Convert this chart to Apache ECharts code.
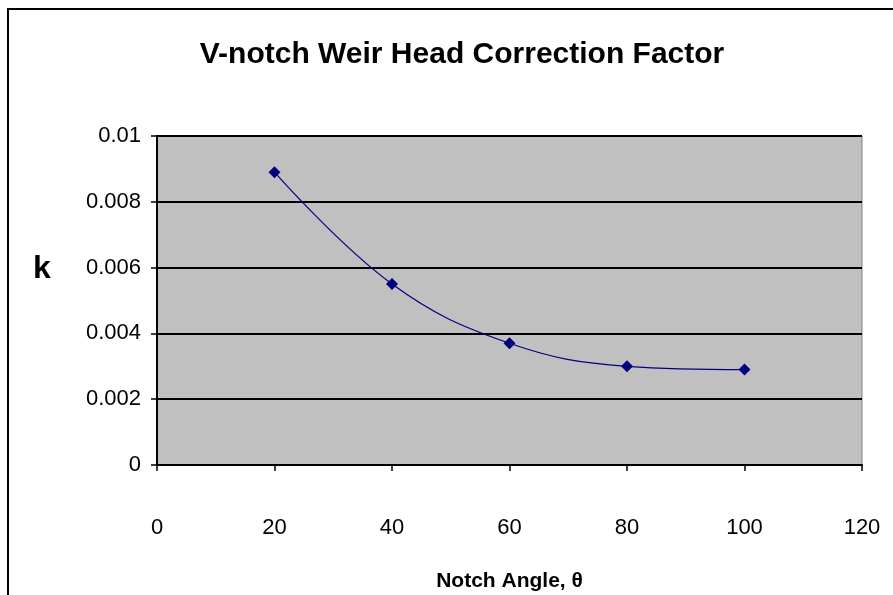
<!DOCTYPE html>
<html><head><meta charset="utf-8">
<script src="https://cdn.jsdelivr.net/npm/echarts@6/dist/echarts.min.js"></script>
<style>html,body{margin:0;padding:0;background:#fff}#c{width:893px;height:595px}</style>
</head><body><div id="c"></div>
<script>
const titleText = "V-notch Weir Head Correction Factor";
const xName = "Notch Angle, θ";
const yName = "k";
const angles = [20, 40, 60, 80, 100];
const kValues = [0.0089, 0.0055, 0.0037, 0.0030, 0.0029];
const FONT = "'Liberation Sans Narrow', 'Liberation Sans', Arial, sans-serif";

const chart = echarts.init(document.getElementById('c'));
chart.setOption({
  animation: false,
  backgroundColor: '#fff',
  title: {
    text: titleText, left: 457, top: 35, textAlign: 'center',
    textStyle: { fontFamily: FONT, fontWeight: 'bold', fontSize: 30, color: '#000' }
  },
  graphic: [
    { type: 'rect', shape: { x: 8, y: 9, width: 1000, height: 700 }, style: { fill: 'none', stroke: '#000', lineWidth: 2 } },
    { type: 'text', left: 33, top: 253, style: { text: yName, font: 'bold 32px ' + FONT, fill: '#000' } }
  ],
  grid: { left: 157, right: 31, top: 136, bottom: 130, outerBoundsMode: 'none', containLabel: false, show: true, backgroundColor: '#c0c0c0', borderColor: '#808080', borderWidth: 1 },
  xAxis: {
    type: 'value', min: 0, max: 120, interval: 20,
    name: xName, nameLocation: 'middle', nameGap: 106,
    nameTextStyle: { fontFamily: FONT, fontWeight: 'bold', fontSize: 21, color: '#000' },
    axisLine: { onZero: false, lineStyle: { color: '#000', width: 2 } },
    axisTick: { show: true, length: 6, lineStyle: { color: '#000', width: 1.5 } },
    axisLabel: { margin: 52, fontFamily: FONT, fontSize: 22, color: '#000' },
    splitLine: { show: false }
  },
  yAxis: {
    type: 'value', min: 0, max: 0.01, interval: 0.002,
    axisLine: { show: true, lineStyle: { color: '#000', width: 2 } },
    axisTick: { show: true, length: 6, lineStyle: { color: '#000', width: 1.5 } },
    axisLabel: { margin: 16, fontFamily: FONT, fontSize: 22, color: '#000', formatter: v => String(+v.toFixed(4)) },
    splitLine: { show: true, lineStyle: { color: '#000', width: 2 } }
  },
  series: [{
    type: 'line', smooth: 0.4,
    data: angles.map((a, i) => [a, kValues[i]]),
    symbol: 'diamond', symbolSize: 12,
    itemStyle: { color: '#000080' },
    lineStyle: { color: '#000080', width: 1.2 }
  }]
});
</script></body></html>
